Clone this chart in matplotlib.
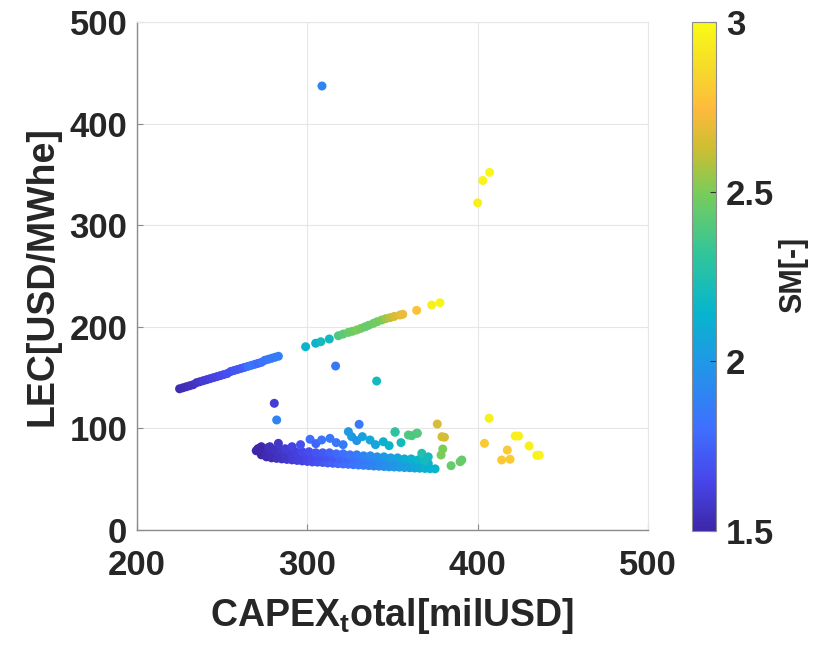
import matplotlib
matplotlib.use("Agg")
import matplotlib.pyplot as plt
from matplotlib.colors import LinearSegmentedColormap

plt.rcParams['font.family'] = ['Liberation Sans', 'DejaVu Sans']
plt.rcParams['font.weight'] = 'bold'
plt.rcParams['axes.labelweight'] = 'bold'
plt.rcParams['mathtext.fontset'] = 'custom'
plt.rcParams['mathtext.rm'] = 'Liberation Sans:bold'
plt.rcParams['mathtext.it'] = 'Liberation Sans:bold'
plt.rcParams['mathtext.bf'] = 'Liberation Sans:bold'

# linear branch, lower part
line_lo_x = [225, 227, 229, 231, 233, 235, 237, 239, 241, 243, 245, 247, 249, 251, 253,
             255, 257, 259, 261, 263, 265, 267, 269, 271, 273, 275, 277, 279, 281, 283]
line_lo_y = [139, 140, 141, 142, 143, 145, 146, 147, 148, 149, 150, 151, 152, 153, 154,
             156, 157, 158, 159, 160, 161, 162, 163, 164, 165, 167, 168, 169, 170, 171]
line_lo_sm = [1.52, 1.53, 1.54, 1.55, 1.55, 1.57, 1.58, 1.6, 1.6, 1.62, 1.63, 1.64, 1.65, 1.66, 1.68,
              1.68, 1.7, 1.71, 1.72, 1.74, 1.8, 1.85, 1.82, 1.78, 1.8, 1.82, 1.85, 1.84, 1.86, 1.88]

# linear branch, upper part
line_hi_x = [299, 304.9, 307.9, 312.9, 318.2, 321, 324.1, 326.5, 329, 331.5, 333.9, 336, 338.8,
             341, 343.7, 346, 348.6, 351, 354.4, 356, 364.2, 373, 377.9]
line_hi_y = [180.4, 183.8, 185.3, 188, 191.2, 192.8, 194.5, 195.6, 196.9, 198.5, 200, 201.5, 203.4,
             205, 206.7, 208, 209, 210.2, 211.6, 212.3, 216.2, 221.4, 223.7]
line_hi_sm = [2.15, 2.12, 2.2, 2.18, 2.4, 2.42, 2.45, 2.47, 2.5, 2.48, 2.45, 2.45, 2.47,
              2.48, 2.5, 2.55, 2.6, 2.65, 2.68, 2.7, 2.78, 2.95, 2.97]

# dense cluster, bottom edge
cl_low_x = [270, 273, 276, 279, 282, 285, 288, 291, 294, 297, 300, 303, 306, 309, 312, 315, 318, 321,
            324, 327, 330, 333, 336, 339, 342, 345, 348, 351, 354, 357, 360, 363, 366, 369, 372, 375]
cl_low_y = [78, 74, 72, 71, 70.5, 70, 69.5, 69, 68.5, 68, 67.5, 67, 66.8, 66.5, 66, 65.7, 65.3, 65,
            64.7, 64.3, 64, 63.7, 63.4, 63, 62.8, 62.5, 62.2, 62, 61.8, 61.5, 61.3, 61, 60.8, 60.6, 60.4, 60.2]
cl_low_sm = [1.5, 1.5, 1.52, 1.53, 1.55, 1.56, 1.58, 1.6, 1.62, 1.63, 1.65, 1.67, 1.69, 1.71, 1.73, 1.75,
             1.77, 1.79, 1.81, 1.83, 1.85, 1.87, 1.89, 1.91, 1.93, 1.95, 1.97, 1.99, 2.01, 2.03, 2.05, 2.07,
             2.09, 2.11, 2.13, 2.15]

# dense cluster, middle rows
cl_mid_x = [271, 275, 279, 283, 287, 291, 295, 299, 303, 307, 311, 315, 319, 323, 327, 331, 335,
            339, 343, 347, 351, 355, 359, 363, 367, 371]
cl_mid_y = [80, 78, 76, 75, 74.5, 74, 73.5, 73, 72.5, 72, 71.5, 71, 70.5, 70, 69.5, 69, 68.5,
            68, 67.8, 67.5, 67.2, 67, 66.7, 66.3, 66, 65.5]
cl_mid_sm = [1.5, 1.52, 1.54, 1.56, 1.58, 1.6, 1.62, 1.64, 1.66, 1.68, 1.7, 1.72, 1.75, 1.78, 1.8, 1.83,
             1.86, 1.89, 1.92, 1.95, 1.98, 2.01, 2.04, 2.07, 2.1, 2.13]

cl_row3_x = [273, 277, 281, 285, 289, 293, 297, 301, 305, 309, 313, 317, 321, 325, 329, 333, 337,
             341, 345, 349, 353, 357, 361, 365, 369]
cl_row3_y = [82, 81, 79, 78, 78, 77, 77, 77, 76, 76, 76, 75, 75, 74, 74, 73, 73, 72, 72, 71, 71,
             70, 70, 69, 68]
cl_row3_sm = [1.52, 1.54, 1.56, 1.58, 1.6, 1.62, 1.65, 1.67, 1.7, 1.72, 1.75, 1.78, 1.8, 1.83, 1.86,
              1.9, 1.93, 1.96, 2.0, 2.03, 2.06, 2.1, 2.13, 2.16, 2.2]

# dense cluster, ragged top
cl_top_x = [272, 278, 283, 287, 291, 296, 301.6, 305, 308.4, 313.3, 317, 321, 324.1, 326, 329,
            332.3, 336.8, 340, 344.6, 348, 351.5, 355, 359.3, 364.2, 367.2, 371]
cl_top_y = [80.4, 82, 85.3, 80, 82, 84, 89.3, 85, 88.6, 90.2, 86, 84, 96.8, 91.9, 88,
            91.9, 88.6, 84, 86.9, 83, 96.8, 86, 93.5, 95.2, 75.5, 72]
cl_top_sm = [1.5, 1.55, 1.58, 1.6, 1.63, 1.68, 1.8, 1.76, 1.82, 1.85, 1.83, 1.86, 2.0, 2.02, 1.98,
             2.05, 2.08, 2.06, 2.12, 2.15, 2.35, 2.2, 2.4, 2.4, 2.25, 2.2]

# isolated points
out_x = [308.6, 400, 403, 407, 316.6, 340.7, 280.6, 282, 330.4, 376.3, 406.7, 404, 422, 424, 430.2,
         434.7, 436.2, 417.4, 414.1, 419, 379, 380.5, 379.5, 378.5, 384.4, 389.7, 390.7, 351.5, 361.3, 364.6]
out_y = [437, 322, 344, 352, 161.4, 146.6, 124.7, 108.3, 104, 104.3, 110, 85.3, 92.5, 92.5, 82.7,
         73.5, 73.5, 78.7, 68.9, 69.6, 91.8, 91.3, 79.7, 73.8, 63.3, 67.2, 68.9, 96.2, 92.8, 95.2]
out_sm = [1.9, 2.95, 2.97, 2.98, 1.85, 2.2, 1.6, 1.9, 1.85, 2.65, 2.95, 2.8, 2.95, 2.95, 2.95,
          2.97, 2.97, 2.8, 2.8, 2.8, 2.65, 2.65, 2.5, 2.5, 2.45, 2.45, 2.45, 2.3, 2.38, 2.4]

capex = line_lo_x + line_hi_x + cl_low_x + cl_mid_x + cl_row3_x + cl_top_x + out_x
lec = line_lo_y + line_hi_y + cl_low_y + cl_mid_y + cl_row3_y + cl_top_y + out_y
sm = line_lo_sm + line_hi_sm + cl_low_sm + cl_mid_sm + cl_row3_sm + cl_top_sm + out_sm

# parula-like colormap
parula = LinearSegmentedColormap.from_list("parula", [
    (0.0, (0.2422, 0.1504, 0.6603)),
    (0.1, (0.2803, 0.2782, 0.9221)),
    (0.2, (0.2440, 0.4358, 0.9988)),
    (0.333, (0.1200, 0.6000, 0.9000)),
    (0.43, (0.0300, 0.7100, 0.8000)),
    (0.55, (0.2000, 0.7750, 0.6000)),
    (0.667, (0.4800, 0.8000, 0.3500)),
    (0.75, (0.8000, 0.7450, 0.2000)),
    (0.83, (0.9932, 0.7300, 0.2392)),
    (0.92, (0.9627, 0.8700, 0.1546)),
    (1.0, (0.9769, 0.9839, 0.0805)),
])

fig = plt.figure(figsize=(8.27, 6.48), dpi=100)
ax = fig.add_axes([137/827, 118/648, 511/827, 508/648])
cax = fig.add_axes([692/827, 117/648, 24/827, 509/648])

sc = ax.scatter(capex, lec, c=sm, cmap=parula, vmin=1.5, vmax=3, s=42, linewidths=0, zorder=3)

ax.set_xlim(200, 500)
ax.set_ylim(0, 500)
ax.set_xticks([200, 300, 400, 500])
ax.set_yticks([0, 100, 200, 300, 400, 500])
ax.grid(True, color='#e6e6e6', linewidth=0.8, zorder=0)
ax.set_axisbelow(True)
for s in ['top', 'right']:
    ax.spines[s].set_color('#e6e6e6')
for s in ['left', 'bottom']:
    ax.spines[s].set_color('#8c8c8c')
    ax.spines[s].set_linewidth(1.0)
ax.tick_params(axis='x', direction='in', length=4, color='#8c8c8c', labelsize=25,
               labelcolor='#262626', pad=14)
ax.tick_params(axis='y', direction='in', length=4, color='#8c8c8c', labelsize=25,
               labelcolor='#262626', pad=7)

ax.set_xlabel(r'CAPEX$_t$otal[milUSD]', fontsize=27, fontweight='bold', color='#262626')
ax.xaxis.set_label_coords(0.5, -0.13)
ax.set_ylabel('LEC[USD/MWhe]', fontsize=27, fontweight='bold', color='#262626')
ax.yaxis.set_label_coords(-0.15, 0.5)

cb = fig.colorbar(sc, cax=cax, ticks=[1.5, 2, 2.5, 3])
cb.ax.set_yticklabels(['1.5', '2', '2.5', '3'])
cb.ax.tick_params(direction='in', length=4, color='#333333', labelsize=25,
                  labelcolor='#262626', pad=7)
cb.outline.set_edgecolor('#8c8c8c')
cb.outline.set_linewidth(0.8)
fig.text(793/827, 1 - 275/648, 'SM[-]', rotation=90, ha='center', va='center',
         fontsize=22, fontweight='bold', color='#262626')

fig.savefig("out.png", dpi=100)
